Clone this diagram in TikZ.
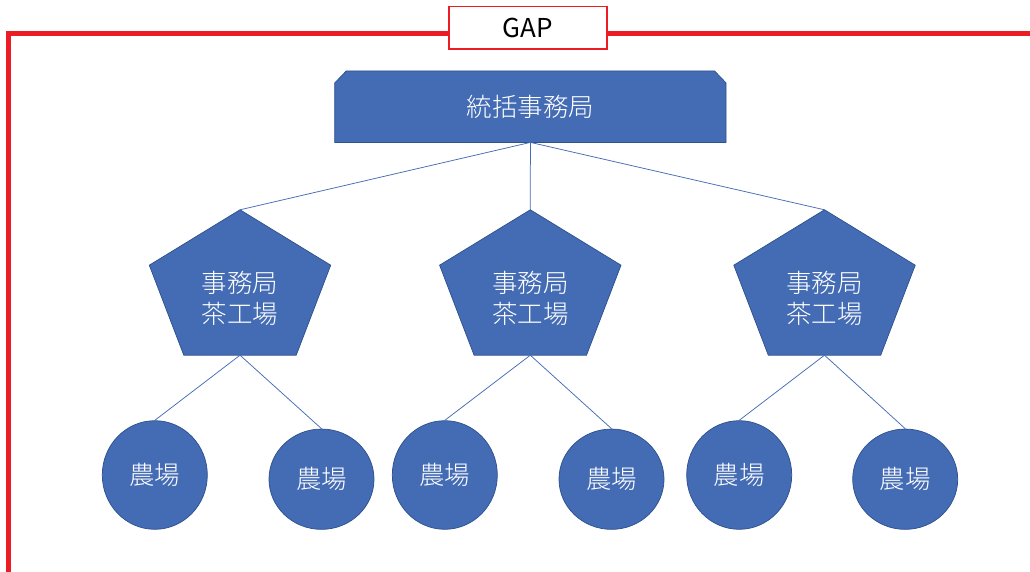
\documentclass[tikz,border=0pt]{standalone}
\usepackage{fontspec}
\setmainfont{Noto Sans CJK JP}[UprightFont=* Light]
\newfontfamily\gapfont{Noto Sans CJK JP}
\usepackage{tikz}
\usetikzlibrary{positioning, shapes.geometric}
\usepackage{xcolor}
\definecolor{unitblue}{HTML}{446CB4}
\definecolor{unitedge}{HTML}{2F528F}
\definecolor{gapred}{HTML}{EC1C24}
\tikzset{%
	every unit/.style={
		fill=unitblue,
		draw=unitedge,
		line width=0.75pt
	},
	unit box/.style={
		draw=none,
		inner sep=0pt,
		minimum width=181pt,
		minimum height=145pt
	},
	hq box/.style={
		draw=none,
		inner sep=0pt,
		minimum width=391pt,
		minimum height=71pt
	},
	unit text/.style={
		text=white,
		align=center,
		inner sep=0pt,
		font=\fontsize{25.5}{31}\selectfont
	},
	farm/.style={
		ellipse,
		every unit,
		minimum width=105pt,
		inner sep=0pt,
		text=white,
		font=\fontsize{25.5}{31}\selectfont
	},
	link/.style={
		draw=unitblue,
		line width=0.75pt
	},
	frame line/.style={
		draw=gapred,
		line width=4.5pt
	},
	gap box/.style={
		draw=gapred,
		fill=white,
		line width=1.5pt,
		minimum width=158pt,
		minimum height=42.5pt,
		inner sep=0pt,
		font=\gapfont\fontsize{26}{30}\selectfont
	},
}

\begin{document}
\begin{tikzpicture}[x=1pt, y=-1pt]
	\useasboundingbox (0,0) rectangle (1030,572);
	\draw[frame line] (8.5,590) -- (8.5,33.5) -- (1045,33.5);
	\node[gap box] (gap) at (528,28) {GAP};
	
	\node[hq box] (hq) at (530.4,106.7) {};
	\path[every unit] (hq.south west) -- ([yshift=-12pt]hq.north west) -- ([xshift=11.5pt]hq.north west)
		-- ([xshift=-11.5pt]hq.north east) -- ([yshift=-12pt]hq.north east) -- (hq.south east) -- cycle;
	\node[unit text] (hqt) at (hq.center) {統括事務局};
	
	\foreach \n/\x in {o1/240, o2/530.3, o3/824.5} {
		\node[unit box] (\n) at (\x,282.5) {};
		\path[every unit] (\n.north) -- ([yshift=-55.4pt]\n.north west) -- ([xshift=34.5pt]\n.south west)
			-- ([xshift=-34.5pt]\n.south east) -- ([yshift=-55.4pt]\n.north east) -- cycle;
		\node[unit text] (\n t) at ([yshift=-15.5pt]\n.center) {事務局\\茶工場};
		\draw[link] (hq.south) -- (\n.north);
	}
	
	\node[farm, minimum height=108.6pt] (f1a) at (154.8,475) {農場};
	\node[farm, minimum height=100.3pt] (f1b) at (321.5,479.2) {農場};
	\node[farm, minimum height=108.6pt] (f2a) at (444.8,475) {農場};
	\node[farm, minimum height=100.3pt] (f2b) at (611.5,479.2) {農場};
	\node[farm, minimum height=108.6pt] (f3a) at (739.2,475) {農場};
	\node[farm, minimum height=100.3pt] (f3b) at (905.2,479.2) {農場};
	
	\foreach \p/\c in {o1/f1a, o1/f1b, o2/f2a, o2/f2b, o3/f3a, o3/f3b}
		\draw[link] (\p.south) -- (\c.north);
	
\end{tikzpicture}
\end{document}
